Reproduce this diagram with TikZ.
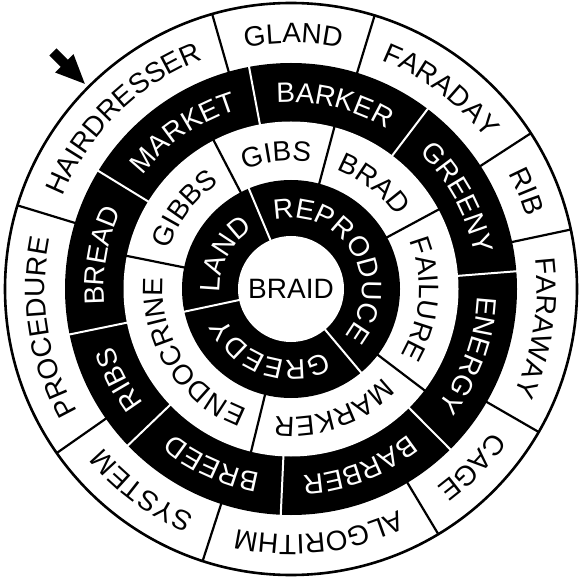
\documentclass[tikz,border=0pt]{standalone}
\usepackage{fontspec}
\setmainfont{Liberation Sans}
\usetikzlibrary{decorations.text}
\newcommand\lblfont{\fontsize{28}{28}\selectfont}
% #1 start angle, #2 end angle (clockwise), #3 baseline radius, #4 colour, #5 text
\newcommand\arclabel[5]{%
  \path[decorate,decoration={text along path,text={|\lblfont|#5},text align=center,text color=#4}]
    (#1:#3pt) arc[start angle=#1,end angle=#2,radius=#3pt];}
\tikzset{
  blackdiv/.style={draw=black,line width=2.2pt},
  whitediv/.style={draw=white,line width=2pt},
  rim/.style={draw=black,line width=2.6pt,fill=white}
}
\begin{document}
\begin{tikzpicture}[x=1pt,y=1pt]
\useasboundingbox (0,0) rectangle (580,576);
\fill[white] (0,0) rectangle (580,576);
\coordinate (C) at (291,287);
\begin{scope}[shift={(C)}]
  % rings
  \path[rim] (0,0) circle[radius=286pt];
  \fill[black] (0,0) circle[radius=226pt];
  \fill[white] (0,0) circle[radius=167.5pt];
  \fill[black] (0,0) circle[radius=109pt];
  \fill[white] (0,0) circle[radius=53pt];
  % dividers
  \foreach \a in {106,73,33,12,-30,-59,-108,-145,163}
    \draw[blackdiv] (\a:225pt) -- (\a:286pt);
  \foreach \a in {100.7,52.8,4.5,-45.2,-92.6,-136.2,-168.4,148.5}
    \draw[whitediv] (\a:166.5pt) -- (\a:227pt);
  \foreach \a in {117.5,75,28.3,-37.2,-103.8,168.6}
    \draw[blackdiv] (\a:108pt) -- (\a:168.5pt);
  \foreach \a in {112.8,-50,192}
    \draw[whitediv] (\a:52pt) -- (\a:110pt);
  % outer ring labels
  \arclabel{163}{106}{246}{black}{HAIRDRESSER}
  \arclabel{106}{73}{246}{black}{GLAND}
  \arclabel{73}{33}{246}{black}{FARADAY}
  \arclabel{33}{12}{246}{black}{RIB}
  \arclabel{12}{-30}{246}{black}{FARAWAY}
  \arclabel{-30}{-59}{246}{black}{CAGE}
  \arclabel{-59}{-108}{246}{black}{ALGORITHM}
  \arclabel{-108}{-145}{246}{black}{SYSTEM}
  \arclabel{215}{163}{246}{black}{PROCEDURE}
  % third ring labels
  \arclabel{148.5}{100.7}{186.8}{white}{MARKET}
  \arclabel{100.7}{52.8}{186.8}{white}{BARKER}
  \arclabel{52.8}{4.5}{186.8}{white}{GREENY}
  \arclabel{4.5}{-45.2}{186.8}{white}{ENERGY}
  \arclabel{-45.2}{-92.6}{186.8}{white}{BARBER}
  \arclabel{-92.6}{-136.2}{186.8}{white}{BREED}
  \arclabel{-136.2}{-168.4}{186.8}{white}{RIBS}
  \arclabel{191.6}{148.5}{186.8}{white}{BREAD}
  % second ring labels
  \arclabel{168.6}{117.5}{128}{black}{GIBBS}
  \arclabel{117.5}{75}{128}{black}{GIBS}
  \arclabel{75}{28.3}{128}{black}{BRAD}
  \arclabel{28.3}{-37.2}{128}{black}{FAILURE}
  \arclabel{-37.2}{-103.8}{128}{black}{MARKER}
  \arclabel{256.2}{168.6}{128}{black}{ENDOCRINE}
  % inner ring labels
  \arclabel{192}{112.8}{71}{white}{LAND}
  \arclabel{112.8}{-50}{71}{white}{REPRODUCE}
  \arclabel{-50}{-168}{71}{white}{GREEDY}
\end{scope}
\node[font=\lblfont,inner sep=0pt] (braid) at (C) {BRAID};
% pointer arrow
\begin{scope}[shift={(53,524)},rotate=-45]
  \fill[black] (0,-5) -- (16,-5) -- (16,-13) -- (45,0) -- (16,13) -- (16,5) -- (0,5) -- cycle;
\end{scope}
\end{tikzpicture}
\end{document}
